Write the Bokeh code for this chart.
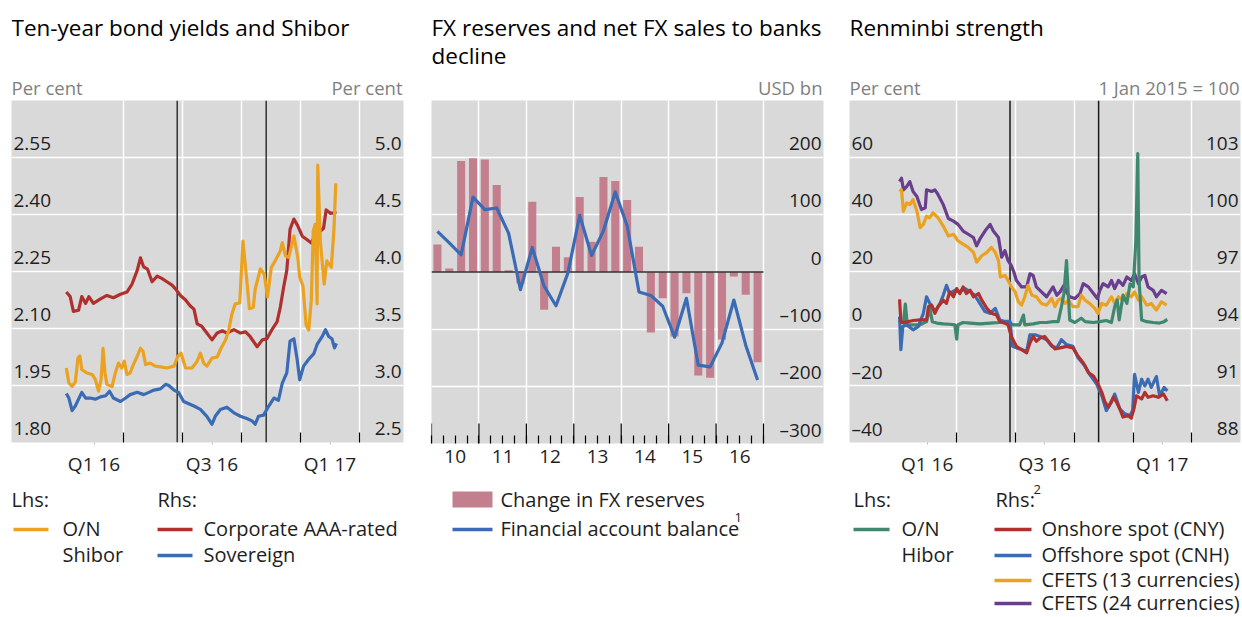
import pandas as pd
from bokeh.plotting import figure
from bokeh.layouts import row, column
from bokeh.models import Range1d, FixedTicker
from bokeh.core.properties import value
from bokeh.embed import file_html
from bokeh.resources import INLINE

# ------------------------------------------------------------------ data
BASE = pd.Timestamp("2016-01-01")          # x of panels 1 and 3 = days since 1 Jan 2016

# Panel 1 -- Ten-year bond yields and Shibor
shibor_days = [2, 6, 11, 16, 20, 23, 26, 34, 42, 47, 52, 56, 59, 62, 65, 73, 78, 83, 88, 92,
               96, 101, 105, 112, 117, 121, 125, 132, 140, 148, 158, 169, 175, 180, 187, 197, 205, 210, 215, 220,
               228, 236, 242, 249, 254, 259, 264, 271, 276, 282, 286, 292, 295, 303, 309, 314, 320, 326, 334, 337,
               342, 347, 355, 361, 364, 369, 374, 378, 382, 385, 388, 391, 392, 396, 402, 406, 413, 417, 420]
shibor_vals = [1.996, 1.957, 1.948, 1.959, 2.022, 2.028, 1.992, 1.983, 1.979, 1.966, 1.935, 1.966, 2.048, 1.983, 1.953, 1.947, 1.983, 2.009, 1.996, 2.014,
               1.979, 1.983, 2.001, 2.027, 2.048, 2.040, 2.005, 2.009, 2.001, 1.999, 1.996, 2.001, 2.027, 2.035, 1.996, 1.996, 2.014, 2.035, 2.009, 2.001,
               2.022, 2.025, 2.048, 2.070, 2.096, 2.139, 2.165, 2.167, 2.330, 2.226, 2.152, 2.156, 2.204, 2.257, 2.243, 2.183, 2.261, 2.278, 2.304, 2.326,
               2.291, 2.287, 2.343, 2.287, 2.235, 2.213, 2.109, 2.096, 2.174, 2.356, 2.374, 2.165, 2.530, 2.330, 2.217, 2.278, 2.261, 2.356, 2.482]
corp_days = [2, 8, 13, 21, 26, 32, 37, 44, 55, 65, 75, 86, 96, 104, 112, 117, 122, 128, 135, 143,
             150, 158, 166, 171, 179, 187, 194, 200, 205, 212, 220, 228, 236, 244, 251, 262, 272, 280, 287, 298,
             306, 313, 321, 329, 334, 339, 344, 349, 355, 361, 368, 375, 382, 386, 393, 401, 405, 412, 421]
corp_vals = [3.82, 3.78, 3.65, 3.66, 3.78, 3.72, 3.78, 3.72, 3.76, 3.79, 3.77, 3.80, 3.82, 3.89, 4.01, 4.12, 4.04, 4.02, 3.91, 3.96,
             3.94, 3.91, 3.88, 3.85, 3.79, 3.75, 3.70, 3.67, 3.54, 3.52, 3.46, 3.40, 3.46, 3.48, 3.46, 3.49, 3.46, 3.47, 3.43, 3.34,
             3.40, 3.41, 3.49, 3.56, 3.69, 3.86, 4.01, 4.37, 4.46, 4.40, 4.31, 4.28, 4.25, 4.30, 4.34, 4.38, 4.54, 4.51, 4.52]
sov_days = [2, 6, 11, 16, 21, 26, 32, 39, 47, 55, 63, 69, 75, 86, 94, 101, 112, 122, 130, 138,
            148, 156, 161, 169, 176, 184, 192, 200, 210, 220, 228, 233, 241, 251, 262, 272, 282, 290, 295, 300,
            308, 316, 324, 331, 337, 344, 349, 355, 360, 364, 370, 378, 386, 391, 399, 404, 409, 414, 418, 421]
sov_vals = [2.93, 2.89, 2.78, 2.82, 2.88, 2.94, 2.89, 2.89, 2.88, 2.90, 2.91, 2.95, 2.89, 2.86, 2.89, 2.92, 2.94, 2.92, 2.94, 2.96,
            2.97, 3.01, 3.00, 2.96, 2.94, 2.86, 2.84, 2.82, 2.79, 2.73, 2.66, 2.73, 2.79, 2.81, 2.76, 2.73, 2.71, 2.69, 2.66, 2.73,
            2.74, 2.82, 2.89, 2.87, 3.02, 3.11, 3.39, 3.41, 3.23, 3.05, 3.17, 3.23, 3.28, 3.36, 3.43, 3.49, 3.43, 3.41, 3.33, 3.37]
p1_lhs_ticks = [1.80, 1.95, 2.10, 2.25, 2.40, 2.55]
p1_lhs_labels = ["1.80", "1.95", "2.10", "2.25", "2.40", "2.55"]
p1_rhs_ticks = [2.5, 3.0, 3.5, 4.0, 4.5, 5.0]
p1_rhs_labels = ["2.5", "3.0", "3.5", "4.0", "4.5", "5.0"]

# shared quarterly time axis (panels 1 and 3)
q_label_text = ["Q1 16", "Q3 16", "Q1 17"]
q_label_dates = ["2016-02-15", "2016-08-16", "2017-02-15"]
q_bound_dates = ["2016-04-01", "2016-07-01", "2016-10-01", "2017-01-01", "2017-04-01"]
event_dates = ["2016-06-23", "2016-11-08"]

# Panel 2 -- FX reserves and net FX sales to banks decline (quarterly, 2010Q1-2016Q4, USD bn)
year_labels = ["10", "11", "12", "13", "14", "15", "16"]
fx_reserve_change = [48, 6, 194, 199, 197, 152, 3, -20,
                     123, -66, 44, 26, 131, 53, 166, 159,
                     126, 44, -106, -46, -113, -37, -181, -185,
                     -118, -8, -40, -158]
fin_account = [71, 51, 30, 131, 109, 112, 68, -31,
               43, -25, -59, -2, 99, 29, 72, 140,
               81, -35, -41, -60, -114, -46, -163, -166,
               -124, -49, -128, -189]
p2_ticks = [-300, -200, -100, 0, 100, 200]
p2_labels = ["\u2013300", "\u2013200", "\u2013100", "0", "100", "200"]

# Panel 3 -- Renminbi strength
hibor_days = [3, 8, 11, 14, 23, 34, 44, 49, 53, 60, 70, 80, 88, 91, 93, 101, 112, 127, 143, 158,
              169, 179, 189, 195, 197, 210, 221, 231, 241, 249, 254, 258, 262, 265, 267, 275, 285, 291, 304, 314,
              324, 332, 337, 341, 344, 350, 356, 361, 366, 370, 373, 375, 379, 387, 397, 407, 414, 419]
hibor_vals = [2.4, 1.9, 8.6, 1.3, 1.3, 1.3, 2.4, 7.1, 2.4, 1.9, 1.6, 1.5, 1.3, -3.7, 1.3, 2.1, 1.9, 1.6, 1.9, 2.1,
              2.4, 1.3, 1.3, 4.7, 1.3, 1.6, 2.1, 2.1, 2.4, 2.4, 7.6, 12.3, 23.8, 11.1, 3.0, 2.1, 3.6, 2.4, 2.1, 2.4,
              2.8, 2.1, 7.6, 10.0, 3.0, 11.7, 8.8, 15.7, 14.6, 30.8, 61.4, 16.9, 3.0, 2.4, 2.1, 1.9, 2.4, 3.2]
cny_days = [2, 4, 8, 16, 23, 34, 44, 47, 52, 57, 62, 70, 75, 80, 86, 91, 96, 101, 106, 112,
            117, 125, 130, 138, 145, 153, 158, 166, 171, 176, 184, 192, 200, 205, 210, 215, 221, 228, 236, 244,
            252, 262, 272, 280, 288, 296, 304, 310, 317, 322, 327, 335, 340, 345, 350, 358, 363, 367, 371, 379,
            384, 389, 397, 405, 413, 419]
cny_vals = [95.53, 94.37, 94.31, 94.37, 94.42, 94.45, 94.45, 95.15, 95.23, 94.80, 95.15, 95.49, 95.32, 95.93, 95.67, 96.10, 95.84, 96.19, 95.84, 96.01,
            95.67, 95.84, 95.49, 95.06, 94.80, 94.71, 94.37, 94.28, 94.19, 93.58, 93.06, 92.89, 92.72, 93.24, 93.58, 93.32, 93.50, 93.58, 93.24, 92.93,
            92.98, 93.06, 92.98, 92.54, 92.20, 91.68, 91.50, 91.16, 90.64, 90.12, 89.86, 90.38, 90.12, 89.77, 89.34, 89.42, 89.28, 89.77, 90.46, 90.29,
            90.64, 90.38, 90.46, 90.38, 90.55, 90.20]
cnh_days = [2, 4, 7, 13, 23, 31, 39, 44, 49, 57, 65, 70, 75, 80, 88, 96, 104, 112, 119, 127,
            135, 143, 151, 158, 166, 174, 178, 184, 192, 200, 205, 213, 221, 231, 239, 247, 254, 262, 272, 280,
            291, 298, 309, 317, 324, 332, 337, 345, 353, 361, 365, 368, 374, 379, 384, 389, 394, 402, 407, 414, 419]
cnh_vals = [94.62, 92.89, 94.10, 94.19, 93.93, 94.10, 94.80, 95.67, 95.32, 94.89, 95.32, 95.75, 96.27, 95.84, 96.01, 95.93, 96.10, 95.93, 95.75, 95.32,
            94.89, 94.80, 95.06, 94.45, 94.37, 94.37, 93.06, 92.98, 92.89, 92.80, 93.67, 93.67, 93.58, 93.41, 93.06, 92.98, 93.41, 93.15, 93.06, 92.46,
            92.02, 91.59, 91.07, 90.46, 89.68, 90.12, 90.55, 89.77, 89.51, 89.42, 89.68, 91.59, 90.64, 91.33, 90.98, 91.33, 90.90, 91.47, 90.46, 90.90, 90.72]
cfets13_days = [2, 5, 8, 13, 18, 23, 29, 34, 39, 44, 49, 54, 62, 70, 78, 86, 93, 101, 109, 117,
                122, 130, 138, 145, 151, 156, 159, 166, 171, 176, 182, 187, 192, 197, 202, 208, 215, 223, 231, 239,
                244, 249, 254, 260, 265, 272, 280, 285, 291, 298, 306, 311, 317, 324, 332, 337, 343, 350, 356, 363,
                368, 374, 379, 387, 394, 402, 410, 418]
cfets13_vals = [101.21, 101.30, 100.17, 100.61, 100.52, 100.78, 100.17, 99.31, 99.48, 99.91, 99.83, 100.09, 99.83, 99.39, 98.87, 98.96, 98.61, 98.44, 98.27, 98.01,
                97.49, 97.83, 98.01, 98.27, 98.01, 97.57, 96.71, 96.79, 96.53, 96.19, 95.93, 95.41, 95.23, 95.67, 96.27, 95.75, 95.67, 95.32, 95.23, 95.58,
                95.15, 95.49, 95.58, 95.32, 95.49, 95.15, 95.15, 95.75, 95.49, 95.32, 95.06, 94.80, 95.32, 95.23, 95.67, 95.32, 95.67, 95.49, 95.84, 95.67,
                95.93, 95.49, 95.67, 95.23, 95.32, 94.97, 95.41, 95.23]
cfets24_days = [2, 5, 8, 13, 18, 23, 29, 36, 42, 44, 52, 57, 62, 70, 78, 86, 93, 101, 109, 117,
                122, 127, 135, 143, 148, 156, 161, 166, 171, 176, 180, 184, 192, 200, 205, 210, 215, 223, 231, 236,
                241, 247, 252, 258, 262, 267, 275, 283, 288, 296, 304, 310, 314, 319, 327, 332, 337, 343, 350, 356,
                363, 368, 374, 379, 384, 389, 397, 402, 410, 418]
cfets24_vals = [101.73, 101.91, 101.30, 101.47, 101.73, 101.21, 100.95, 100.26, 100.35, 101.30, 101.21, 101.30, 101.04, 100.52, 99.79, 99.65, 99.48, 99.13, 98.96, 98.79,
                98.35, 98.70, 99.13, 99.48, 99.13, 98.79, 97.75, 98.10, 97.57, 97.31, 96.97, 96.53, 96.19, 96.19, 96.88, 96.79, 96.19, 95.93, 95.67, 95.93,
                96.19, 95.75, 95.93, 96.27, 95.93, 95.67, 95.58, 95.84, 96.36, 96.19, 95.84, 95.58, 96.01, 96.36, 96.19, 96.53, 96.10, 96.53, 96.27, 96.71,
                96.53, 96.88, 96.36, 96.71, 96.79, 96.19, 96.01, 95.67, 96.01, 95.84]
p3_lhs_ticks = [-40, -20, 0, 20, 40, 60]
p3_lhs_labels = ["\u201340", "\u201320", "0", "20", "40", "60"]
p3_rhs_ticks = [88, 91, 94, 97, 100, 103]
p3_rhs_labels = ["88", "91", "94", "97", "100", "103"]

# ------------------------------------------------------------------ style
FONT = value("Open Sans")
BG = "#d9d9d9"
TXT = "#1e1e1e"
UNIT = "#7f7f7f"
C_ORANGE = "#eaa220"
C_RED = "#b0302d"
C_BLUE = "#3a6bb4"
C_PINK = "#c47f8e"
C_GREEN = "#3f876f"
C_PURPLE = "#683e8d"

LINE_H, HEAD_H, MAIN_H, FRAME_H, LEG_H = 2, 98, 379, 343, 138
COLS = {1: (420, 11, 17), 2: (410, 11, 7), 3: (412, 19, 2)}   # width, left border, right border
ROWS = [20, 49, 75, 100, 123]
LEG_FS = "20px"


def day(d):
    return (pd.Timestamp(d) - BASE).days


def blank(col, height):
    w, bl, br = COLS[col]
    fw = w - bl - br
    f = figure(width=w, height=height, x_range=Range1d(0, fw), y_range=Range1d(height, 0),
               toolbar_location=None, output_backend="svg", x_axis_location=None, y_axis_location=None,
               min_border_left=bl, min_border_right=br, min_border_top=0, min_border_bottom=0)
    f.grid.visible = False
    f.outline_line_color = None
    f.background_fill_color = "white"
    f.border_fill_color = "white"
    return f


def txt(f, x, y, s, size=LEG_FS, color=TXT, align="left", baseline="middle"):
    f.text(x=[x], y=[y], text=[s], text_font=FONT, text_font_size=size, text_color=color,
           text_align=align, text_baseline=baseline)


def header(col, titles, unit_l, unit_r):
    w, bl, br = COLS[col]
    fw = w - bl - br
    h = blank(col, HEAD_H)
    for i, t in enumerate(titles):
        txt(h, 0, 25 + 28 * i, t, size="22.5px", color="black")
    if unit_l:
        txt(h, 0, 85, unit_l, size="18.5px", color=UNIT)
    if unit_r:
        txt(h, fw - 1, 85, unit_r, size="18.5px", color=UNIT, align="right")
    return h


def main_panel(col, xr, yr, rhs=None):
    w, bl, br = COLS[col]
    p = figure(width=w, height=MAIN_H, x_range=Range1d(*xr), y_range=Range1d(*yr),
               toolbar_location=None, output_backend="svg", y_axis_location=None,
               min_border_left=bl, min_border_right=br, min_border_top=0,
               min_border_bottom=MAIN_H - FRAME_H)
    if rhs:
        p.extra_y_ranges = {"rhs": Range1d(*rhs)}
    p.background_fill_color = BG
    p.border_fill_color = "white"
    p.outline_line_color = None
    p.grid.grid_line_color = "white"
    p.grid.grid_line_width = 1.5
    ax = p.xaxis[0]
    ax.axis_line_color = None
    ax.major_tick_in = 0
    ax.major_tick_out = 2
    ax.major_tick_line_color = "#bdbdbd"
    ax.minor_tick_in = 10
    ax.minor_tick_out = 0
    ax.minor_tick_line_color = "black"
    ax.minor_tick_line_width = 1.2
    ax.major_label_standoff = 6
    ax.major_label_text_font = "Open Sans"
    ax.major_label_text_font_size = "19px"
    ax.major_label_text_color = TXT
    return p


def tick_labels(p, x, ticks, labels, side, range_name="default"):
    kw = dict(text_font=FONT, text_font_size="19px", text_color=TXT,
              text_baseline="alphabetic", y_offset=-14, y_range_name=range_name)
    if side == "left":
        p.text(x=[x] * len(ticks), y=ticks, text=labels, text_align="left", x_offset=2, **kw)
    else:
        p.text(x=[x] * len(ticks), y=ticks, text=labels, text_align="right", x_offset=-2, **kw)


def time_axis(p):
    mids = [day(d) for d in q_label_dates]
    bounds = [day(d) for d in q_bound_dates]
    p.xaxis.ticker = FixedTicker(ticks=mids, minor_ticks=bounds)
    p.xaxis.major_label_overrides = {m: t for m, t in zip(mids, q_label_text)}
    p.xgrid.ticker = FixedTicker(ticks=bounds)
    return [day(d) for d in event_dates]


# ------------------------------------------------------------------ top rule
top = figure(width=sum(c[0] for c in COLS.values()), height=LINE_H, toolbar_location=None,
             x_range=Range1d(0, 1), y_range=Range1d(0, 1),
             output_backend="svg", x_axis_location=None, y_axis_location=None, min_border=0)
top.grid.visible = False
top.outline_line_color = None
top.background_fill_color = "black"
top.border_fill_color = "black"
top.quad(left=[-1], right=[2], bottom=[-1], top=[2], fill_color="black", line_color=None)

# ------------------------------------------------------------------ panel 1
p1 = main_panel(1, (-83, 525), (1.80, 2.70), rhs=(2.5, 5.5))
ev = time_axis(p1)
p1.ygrid.ticker = FixedTicker(ticks=p1_lhs_ticks[1:])
p1.segment(x0=ev, y0=[1.80] * 2, x1=ev, y1=[2.70] * 2, line_color="#1a1a1a", line_width=1.3)
p1.line(corp_days, corp_vals, y_range_name="rhs", line_color=C_RED, line_width=3.2, line_join="round")
p1.line(sov_days, sov_vals, y_range_name="rhs", line_color=C_BLUE, line_width=3.2, line_join="round")
p1.line(shibor_days, shibor_vals, line_color=C_ORANGE, line_width=3.2, line_join="round")
tick_labels(p1, -83, p1_lhs_ticks, p1_lhs_labels, "left")
tick_labels(p1, 525, p1_rhs_ticks, p1_rhs_labels, "right", "rhs")

h1 = header(1, ["Ten-year bond yields and Shibor"], "Per cent", "Per cent")

l1 = blank(1, LEG_H)
txt(l1, 0, ROWS[0], "Lhs:")
txt(l1, 146, ROWS[0], "Rhs:")
l1.segment(x0=[2, 146, 146], y0=[ROWS[1] + 1, ROWS[1] + 1, ROWS[2] + 1],
           x1=[37, 181, 181], y1=[ROWS[1] + 1, ROWS[1] + 1, ROWS[2] + 1],
           line_color=[C_ORANGE, C_RED, C_BLUE], line_width=3.5)
txt(l1, 51, ROWS[1], "O/N")
txt(l1, 51, ROWS[2], "Shibor")
txt(l1, 192, ROWS[1], "Corporate AAA-rated")
txt(l1, 192, ROWS[2], "Sovereign")

# ------------------------------------------------------------------ panel 2
nq = len(fx_reserve_change)
qx = [i + 0.5 for i in range(nq)]
p2 = main_panel(2, (0, 33.06), (-300, 300))
year_mid = [4 * i + 2 for i in range(len(year_labels))]
year_bounds = [4 * i for i in range(len(year_labels) + 1)]
p2.xaxis.ticker = FixedTicker(ticks=year_mid, minor_ticks=list(range(nq + 1)))
p2.xaxis.major_label_overrides = {m: t for m, t in zip(year_mid, year_labels)}
p2.xaxis.major_tick_out = 0
p2.xaxis.minor_tick_in = 8
p2.xgrid.ticker = FixedTicker(ticks=year_bounds[1:])
p2.ygrid.ticker = FixedTicker(ticks=[t for t in p2_ticks if t not in (0, -300)])
tall = 600 / FRAME_H * 20
p2.segment(x0=year_bounds, y0=[-300] * len(year_bounds), x1=year_bounds,
           y1=[-300 + tall] * len(year_bounds), line_color="black", line_width=1.2)
p2.vbar(x=qx, top=fx_reserve_change, width=0.68, fill_color=C_PINK, line_color=None)
p2.segment(x0=[0], y0=[0], x1=[nq], y1=[0], line_color="#333333", line_width=1.5)
p2.line(qx, fin_account, line_color=C_BLUE, line_width=3.2, line_join="round")
tick_labels(p2, 33.06, p2_ticks, p2_labels, "right")

h2 = header(2, ["FX reserves and net FX sales to banks", "decline"], None, "USD bn")

l2 = blank(2, LEG_H)
l2.quad(left=[21], right=[61], top=[ROWS[0] - 8], bottom=[ROWS[0] + 8], fill_color=C_PINK, line_color=None)
l2.segment(x0=[21], y0=[ROWS[1] + 1], x1=[61], y1=[ROWS[1] + 1], line_color=C_BLUE, line_width=3.5)
txt(l2, 69, ROWS[0], "Change in FX reserves")
txt(l2, 69, ROWS[1], "Financial account balance")
txt(l2, 303, ROWS[1] - 11, "1", size="13px")

# ------------------------------------------------------------------ panel 3
p3 = main_panel(3, (-76, 533), (-40, 80), rhs=(88, 106))
ev = time_axis(p3)
p3.ygrid.ticker = FixedTicker(ticks=p3_lhs_ticks[1:])
p3.segment(x0=ev, y0=[-40] * 2, x1=ev, y1=[80] * 2, line_color="#1a1a1a", line_width=1.5)
p3.line(cfets24_days, cfets24_vals, y_range_name="rhs", line_color=C_PURPLE, line_width=3.2, line_join="round")
p3.line(cfets13_days, cfets13_vals, y_range_name="rhs", line_color=C_ORANGE, line_width=3.2, line_join="round")
p3.line(hibor_days, hibor_vals, line_color=C_GREEN, line_width=3.2, line_join="round")
p3.line(cnh_days, cnh_vals, y_range_name="rhs", line_color=C_BLUE, line_width=3.2, line_join="round")
p3.line(cny_days, cny_vals, y_range_name="rhs", line_color=C_RED, line_width=3.2, line_join="round")
tick_labels(p3, -76, p3_lhs_ticks, p3_lhs_labels, "left")
tick_labels(p3, 533, p3_rhs_ticks, p3_rhs_labels, "right", "rhs")

h3 = header(3, ["Renminbi strength"], "Per cent", "1 Jan 2015 = 100")

l3 = blank(3, LEG_H)
txt(l3, 4, ROWS[0], "Lhs:")
txt(l3, 146, ROWS[0], "Rhs:")
txt(l3, 184, ROWS[0] - 10, "2", size="13px")
l3.segment(x0=[4], y0=[ROWS[1] + 1], x1=[40], y1=[ROWS[1] + 1], line_color=C_GREEN, line_width=3.5)
txt(l3, 52, ROWS[1], "O/N")
txt(l3, 52, ROWS[2], "Hibor")
rhs_names = ["Onshore spot (CNY)", "Offshore spot (CNH)", "CFETS (13 currencies)", "CFETS (24 currencies)"]
rhs_cols = [C_RED, C_BLUE, C_ORANGE, C_PURPLE]
ys = [r + 1 for r in ROWS[1:]]
l3.segment(x0=[145] * 4, y0=ys, x1=[182] * 4, y1=ys, line_color=rhs_cols, line_width=3.5)
for r, name in zip(ROWS[1:], rhs_names):
    txt(l3, 192, r, name)

layout = column(top, row(column(h1, p1, l1), column(h2, p2, l2), column(h3, p3, l3)))
open("out.html", "w").write(file_html(layout, INLINE))
